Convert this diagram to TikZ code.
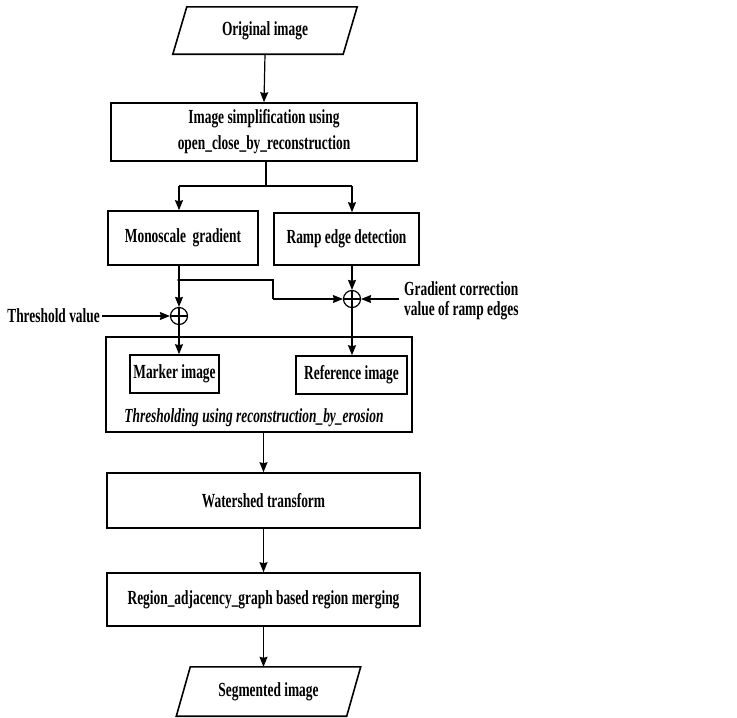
\documentclass[tikz,border=0pt]{standalone}
\usepackage{fontspec}
\setmainfont{Liberation Serif}[FakeStretch=0.67]
\usetikzlibrary{arrows.meta}
\tikzset{
  boxline/.style={line width=1.6pt},
  box/.style={draw, boxline, rectangle, inner sep=0pt, align=center, font=\fontsize{20}{26}\selectfont\bfseries},
  iobox/.style={rectangle, inner sep=0pt, align=center, font=\fontsize{20}{26}\selectfont\bfseries},
  lbl/.style={inner sep=0pt, align=left, font=\fontsize{20}{20}\selectfont\bfseries},
  conn/.style={line width=1.2pt, -{Stealth[length=10pt,width=8pt,inset=1pt]}},
  wire/.style={line width=1.2pt},
  sumnode/.style={circle, draw, line width=1.2pt, minimum size=17pt, inner sep=0pt,
    path picture={\draw[line width=1.2pt] (path picture bounding box.north) -- (path picture bounding box.south)
      (path picture bounding box.west) -- (path picture bounding box.east);}}
}
\begin{document}
\begin{tikzpicture}[x=1pt,y=-1pt]
\useasboundingbox (0,0) rectangle (737,718);
% nodes
\node[iobox, minimum width=170pt, minimum height=47pt] (orig) at (265,30.5) {Original image};
\draw[boxline] ([xshift=-7pt]orig.south west) -- ([xshift=7pt]orig.north west) -- ([xshift=7pt]orig.north east) -- ([xshift=-7pt]orig.south east) -- cycle;
\node[box, minimum width=306pt, minimum height=58pt] (simp) at (264,132) {Image simplification using\\open\_close\_by\_reconstruction};
\node[box, minimum width=150pt, minimum height=54pt] (mono) at (183,238) {Monoscale\ \ gradient};
\node[box, minimum width=145pt, minimum height=52pt] (ramp) at (346.5,239) {Ramp edge detection};
\node[sumnode] (c1) at (179,316) {};
\node[sumnode] (c2) at (352,299) {};
\node[lbl, anchor=east] (thr) at (100,316) {Threshold value};
\node[lbl, anchor=west] (grad) at (404,301) {Gradient correction\\value of ramp edges};
\node[draw, boxline, minimum width=306pt, minimum height=95pt, inner sep=0pt] (big) at (259,384.5) {};
\node[box, minimum width=89pt, minimum height=38pt] (marker) at (174.5,374) {Marker image};
\node[box, minimum width=111pt, minimum height=38pt] (ref) at (351.5,375) {Reference image};
\node[iobox, font=\fontsize{20}{26}\selectfont\bfseries\itshape] (thtext) at (254,418) {Thresholding using reconstruction\_by\_erosion};
\node[box, minimum width=313pt, minimum height=55pt] (ws) at (263.5,500.5) {Watershed transform};
\node[box, minimum width=313pt, minimum height=53pt] (rag) at (263.5,599.5) {Region\_adjacency\_graph based region merging};
\node[iobox, minimum width=170pt, minimum height=49pt] (seg) at (268.5,691.5) {Segmented image};
\draw[boxline] ([xshift=-7pt]seg.south west) -- ([xshift=7pt]seg.north west) -- ([xshift=7pt]seg.north east) -- ([xshift=-7pt]seg.south east) -- cycle;
% coordinates
\coordinate (split) at (266,186);
\coordinate (ml) at (179,186);
\coordinate (mr) at (352,186);
\coordinate (jd) at (179,280);
\coordinate (j1) at (273,280);
\coordinate (j2) at (273,299);
% connectors
\draw[conn] (orig.south) -- (simp.north);
\draw[wire] (simp.south -| split) -- (split);
\draw[wire] (ml) -- (mr);
\draw[conn] (ml) -- (ml |- mono.north);
\draw[conn] (mr) -- (mr |- ramp.north);
\draw[wire] (mono.south -| jd) -- (jd);
\draw[conn] (jd) -- (c1.north);
\fill (jd) circle (1.8pt);
\draw[wire] (jd) -- (j1) -- (j2);
\draw[conn] (j2) -- (c2.west);
\draw[conn] (ramp.south -| c2) -- (c2.north);
\draw[conn] (thr.east) ++(2pt,0) -- (c1.west);
\draw[conn] ([xshift=-5pt]grad.west |- c2) -- (c2.east);
\draw[conn] (c1.south) -- (c1.south |- marker.north);
\draw[conn] (c2.south) -- (c2.south |- ref.north);
\draw[conn] (big.south -| ws) -- (ws.north);
\draw[conn] (ws.south) -- (rag.north);
\draw[conn] (rag.south) -- (rag.south |- seg.north);
\end{tikzpicture}
\end{document}
